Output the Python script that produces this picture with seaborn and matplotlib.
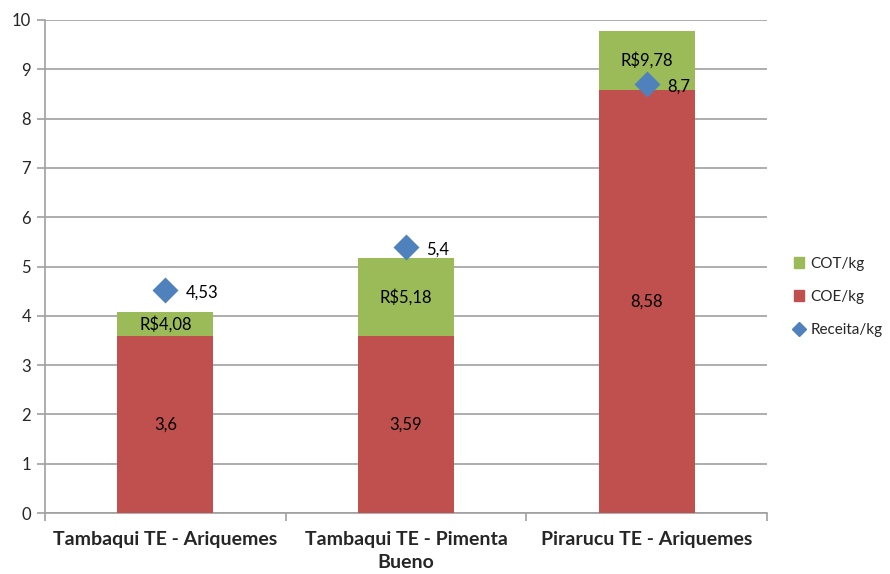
import matplotlib
matplotlib.use("Agg")
import matplotlib.pyplot as plt
import seaborn as sns
import pandas as pd
from matplotlib.patches import Patch
from matplotlib.lines import Line2D

categories = ["Tambaqui TE - Ariquemes", "Tambaqui TE - Pimenta\nBueno", "Pirarucu TE - Ariquemes"]
coe = [3.6, 3.59, 8.58]
cot_total = [4.08, 5.18, 9.78]
receita = [4.53, 5.4, 8.7]
coe_labels = ["3,6", "3,59", "8,58"]
cot_labels = ["R$4,08", "R$5,18", "R$9,78"]
receita_labels = ["4,53", "5,4", "8,7"]
yticks = list(range(0, 11))

RED = "#C0504D"
GREEN = "#9BBB59"
BLUE = "#4F81BD"
GRID = "#A0A0A0"

sns.set_theme(style="white")
plt.rcParams["font.family"] = ["Lato", "DejaVu Sans"]

df = pd.DataFrame({"cat": categories, "coe": coe, "total": cot_total, "receita": receita})

fig = plt.figure(figsize=(8.9, 5.74), dpi=100)
ax = fig.add_axes([45 / 890, 1 - 513 / 574, (767 - 45) / 890, (513 - 20) / 574])

sns.barplot(data=df, x="cat", y="total", color=GREEN, saturation=1, width=0.4, ax=ax,
            zorder=2, linewidth=0)
sns.barplot(data=df, x="cat", y="coe", color=RED, saturation=1, width=0.4, ax=ax,
            zorder=3, linewidth=0)
sns.pointplot(data=df, x="cat", y="receita", color=BLUE, marker="D", linestyle="none",
              markersize=11, errorbar=None, ax=ax, zorder=4)

for i in range(len(categories)):
    ax.text(i, coe[i] / 2, coe_labels[i], ha="center", va="center", fontsize=12, color="black", zorder=5)
    ax.text(i, (coe[i] + cot_total[i]) / 2, cot_labels[i], ha="center", va="center", fontsize=12, color="black", zorder=5)
    ax.text(i + 0.085, receita[i] - 0.05, receita_labels[i], ha="left", va="center", fontsize=12, color="black", zorder=5)

ax.set_ylim(0, 10)
ax.set_xlim(-0.5, 2.5)
ax.set_yticks(yticks)
ax.set_yticklabels([str(t) for t in yticks], fontsize=12)
ax.yaxis.grid(True, color=GRID, linewidth=1.2, zorder=0)
ax.set_axisbelow(True)
ax.set_xlabel("")
ax.set_ylabel("")
ax.set_xticks(range(len(categories)))
ax.set_xticklabels(categories, fontsize=14, fontweight="bold", linespacing=1.45)
ax.tick_params(axis="x", which="major", length=0, pad=13)
ax.set_xticks([-0.5, 0.5, 1.5, 2.5], minor=True)
ax.tick_params(axis="x", which="minor", length=6, color=GRID, width=1.2, bottom=True)
ax.tick_params(axis="y", length=6, color=GRID, width=1.2, left=True, pad=4)
for s in ["top", "right"]:
    ax.spines[s].set_visible(False)
for s in ["left", "bottom"]:
    ax.spines[s].set_color(GRID)
    ax.spines[s].set_linewidth(1.2)

handles = [Patch(facecolor=GREEN, edgecolor=GREEN, label="COT/kg"),
           Patch(facecolor=RED, edgecolor=RED, label="COE/kg"),
           Line2D([], [], marker="D", color=BLUE, linestyle="none", markersize=7, label="Receita/kg")]
fig.legend(handles=handles, loc="center left", bbox_to_anchor=(780 / 890, 1 - 297 / 574),
           frameon=False, fontsize=11, handlelength=0.7, handleheight=0.7, labelspacing=1.25,
           handletextpad=0.4)

fig.savefig("out.png", dpi=100)
